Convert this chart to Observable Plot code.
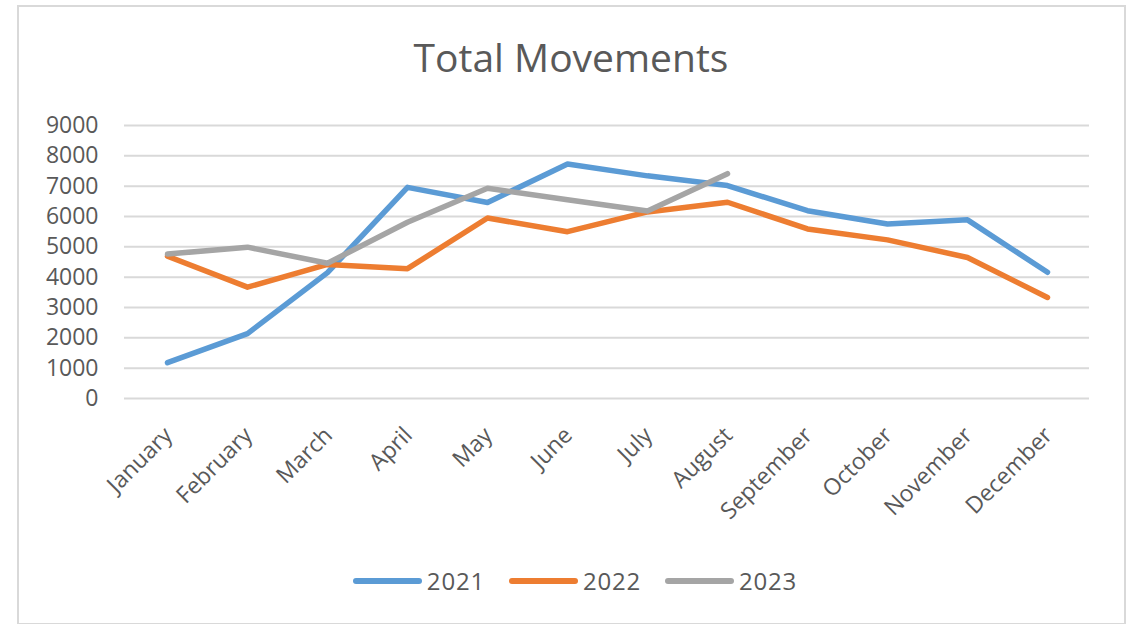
<!DOCTYPE html>
<html>
<head>
<meta charset="utf-8">
<script src="https://cdn.jsdelivr.net/npm/d3@7"></script>
<script src="https://cdn.jsdelivr.net/npm/@observablehq/plot@0.6"></script>
<style>
  html, body { margin: 0; padding: 0; background: #fff; }
  body { width: 1132px; height: 626px; overflow: hidden; font-family: "Open Sans", sans-serif; }
  #frame { position: absolute; left: 17px; top: 5px; width: 1105px; height: 616px; border: 2px solid #d9d9d9; border-bottom-width: 1px; box-sizing: content-box; }
  #title { position: absolute; left: 0; width: 1142px; top: 37px; text-align: center; font-size: 39px; line-height: 39px; color: #595959; }
  #chart { position: absolute; left: 0; top: 100px; }
  #legend { position: absolute; left: 0; width: 1150px; top: 566px; display: flex; justify-content: center; align-items: center; font-size: 24px; line-height: 30px; color: #595959; letter-spacing: 0.8px; }
  .item { display: flex; align-items: center; margin: 0 12px; }
  .sw { display: inline-block; width: 69px; height: 6px; border-radius: 3px; margin-right: 5px; }
</style>
</head>
<body>
<div id="frame"></div>
<div id="title">Total Movements</div>
<div id="chart"></div>
<div id="legend"></div>
<script>
const months = ["January","February","March","April","May","June","July","August","September","October","November","December"];
const series = ["2021","2022","2023"];
const colors = ["#5B9BD5","#ED7D31","#A5A5A5"];
const values2021 = [1180, 2140, 4150, 6960, 6460, 7730, 7340, 7020, 6190, 5750, 5890, 4160];
const values2022 = [4690, 3670, 4420, 4280, 5950, 5500, 6150, 6470, 5590, 5230, 4650, 3330];
const values2023 = [4760, 4990, 4460, 5810, 6930, 6550, 6180, 7410];
const yTicks = [0,1000,2000,3000,4000,5000,6000,7000,8000,9000];

const allValues = [values2021, values2022, values2023];
const data = [];
series.forEach((s, i) => {
  allValues[i].forEach((v, j) => data.push({series: s, month: months[j], value: v}));
});

const chart = Plot.plot({
  width: 1132,
  height: 440,
  marginLeft: 124,
  marginRight: 43,
  marginTop: 25,
  marginBottom: 142,
  style: {fontFamily: "'Open Sans', sans-serif", color: "#595959", background: "transparent"},
  x: {type: "point", domain: months, padding: 0.5, label: null},
  y: {domain: [0, 9000], label: null},
  color: {domain: series, range: colors},
  marks: [
    Plot.gridY(yTicks, {stroke: "#d9d9d9", strokeOpacity: 1, strokeWidth: 2}),
    Plot.axisY(yTicks, {tickSize: 0, tickPadding: 26, tickFormat: d => String(d), fontSize: 23, label: null, style: {letterSpacing: "1.6px"}}),
    Plot.axisX({tickSize: 0, tickRotate: -45, tickPadding: 33, dx: 1, fontSize: 23, label: null, style: {letterSpacing: "1px"}}),
    Plot.line(data, {x: "month", y: "value", z: "series", stroke: "series", strokeWidth: 5.5, strokeLinecap: "round", strokeLinejoin: "round"})
  ]
});
document.getElementById("chart").appendChild(chart);

const legend = document.getElementById("legend");
series.forEach((s, i) => {
  const item = document.createElement("div");
  item.className = "item";
  const sw = document.createElement("span");
  sw.className = "sw";
  sw.style.background = colors[i];
  const t = document.createElement("span");
  t.textContent = s;
  item.appendChild(sw);
  item.appendChild(t);
  legend.appendChild(item);
});
</script>
</body>
</html>
